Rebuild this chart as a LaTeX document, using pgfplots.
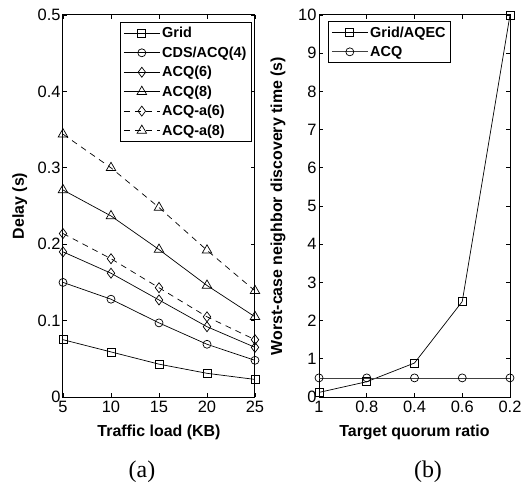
\documentclass[border=0pt]{standalone}
\usepackage{fontspec}
\setmainfont{Liberation Sans}
\newfontfamily\capfont{Liberation Serif}
\usepackage{pgfplots}
\pgfplotsset{compat=1.18}
\pgfplotsset{
  common/.style={
    scale only axis, width=192bp, height=382bp,
    tick align=inside, major tick length=4bp,
    xtick pos=both, ytick pos=both,
    xticklabel pos=lower, yticklabel pos=left,
    axis line style={line width=1bp},
    tick style={line width=0.6bp, black},
    /pgf/number format/assume math mode=true,
    ticklabel style={font=\fontsize{16.5}{16.5}\selectfont},
    xticklabel style={yshift=-1bp},
    yticklabel style={xshift=1bp},
    label style={font=\fontsize{16}{16}\selectfont\bfseries},
    legend cell align=left,
    legend style={font=\fontsize{14.5}{14.5}\selectfont\bfseries, draw=black, line width=1bp,
      inner xsep=3bp, inner ysep=3bp, row sep=3.5bp},
    legend image code/.code={\draw[mark repeat=2,mark phase=2,#1] plot coordinates {(0bp,0bp) (18bp,0bp) (36bp,0bp)};},
    every axis plot/.append style={line width=0.7bp, black},
  },
}
\begin{document}
\begin{tikzpicture}
\useasboundingbox (-63bp,-89bp) rectangle (464bp,397bp);
\begin{axis}[common, at={(0bp,0bp)}, anchor=south west,
  xmin=5, xmax=25, ymin=0, ymax=0.5,
  xtick={5,10,15,20,25}, ytick={0,0.1,0.2,0.3,0.4,0.5},
  yticklabels={0,0.1,0.2,0.3,0.4,0.5},
  xlabel={Traffic load (KB)}, ylabel={Delay (s)},
  xlabel style={at={(axis description cs:0.5,-0.092)}, anchor=center},
  ylabel style={at={(axis description cs:-0.225,0.5)}, anchor=center, rotate=0},
  legend style={at={(axis description cs:0.984,0.982)}, anchor=north east},
]
\addplot[mark=square, mark size=4bp, mark options={solid, fill=white}] coordinates {(5,0.075) (10,0.059) (15,0.043) (20,0.031) (25,0.023)};
\addlegendentry{Grid}
\addplot[mark=o, mark size=4bp, mark options={solid, fill=white}] coordinates {(5,0.150) (10,0.128) (15,0.097) (20,0.069) (25,0.048)};
\addlegendentry{CDS/ACQ(4)}
\addplot[mark=diamond, mark size=5bp, mark options={solid, fill=white}] coordinates {(5,0.190) (10,0.162) (15,0.127) (20,0.092) (25,0.065)};
\addlegendentry{ACQ(6)}
\addplot[mark=triangle, mark size=5.5bp, mark options={solid, fill=white}] coordinates {(5,0.271) (10,0.237) (15,0.193) (20,0.146) (25,0.105)};
\addlegendentry{ACQ(8)}
\addplot[dash pattern=on 6bp off 5bp, mark=diamond, mark size=5bp, mark options={solid, fill=white}] coordinates {(5,0.214) (10,0.181) (15,0.143) (20,0.105) (25,0.075)};
\addlegendentry{ACQ-a(6)}
\addplot[dash pattern=on 6bp off 5bp, mark=triangle, mark size=5.5bp, mark options={solid, fill=white}] coordinates {(5,0.344) (10,0.300) (15,0.248) (20,0.192) (25,0.139)};
\addlegendentry{ACQ-a(8)}
\end{axis}
\begin{axis}[common, at={(256bp,0bp)}, anchor=south west, width=191bp,
  xmin=0, xmax=4, ymin=0, ymax=10,
  xtick={0,1,2,3,4}, xticklabels={1,0.8,0.4,0.6,0.2},
  ytick={0,1,...,10},
  xlabel={Target quorum ratio}, ylabel={Worst-case neighbor discovery time (s)},
  xlabel style={at={(axis description cs:0.5,-0.092)}, anchor=center},
  ylabel style={at={(axis description cs:-0.215,0.5)}, anchor=center},
  legend style={at={(axis description cs:0.047,0.984)}, anchor=north west},
]
\addplot[mark=square, mark size=4bp, mark options={solid, fill=white}] coordinates {(0,0.12) (1,0.40) (2,0.89) (3,2.5) (4,10)};
\addlegendentry{Grid/AQEC}
\addplot[black!75, mark=o, mark size=4bp, mark options={solid, fill=white, draw=black}] coordinates {(0,0.5) (1,0.5) (2,0.5) (3,0.5) (4,0.5)};
\addlegendentry{ACQ}
\end{axis}
\node[font=\capfont\fontsize{24}{24}\selectfont] at (79bp,-75bp) {(a)};
\node[font=\capfont\fontsize{24}{24}\selectfont] at (365bp,-75bp) {(b)};
\end{tikzpicture}
\end{document}
